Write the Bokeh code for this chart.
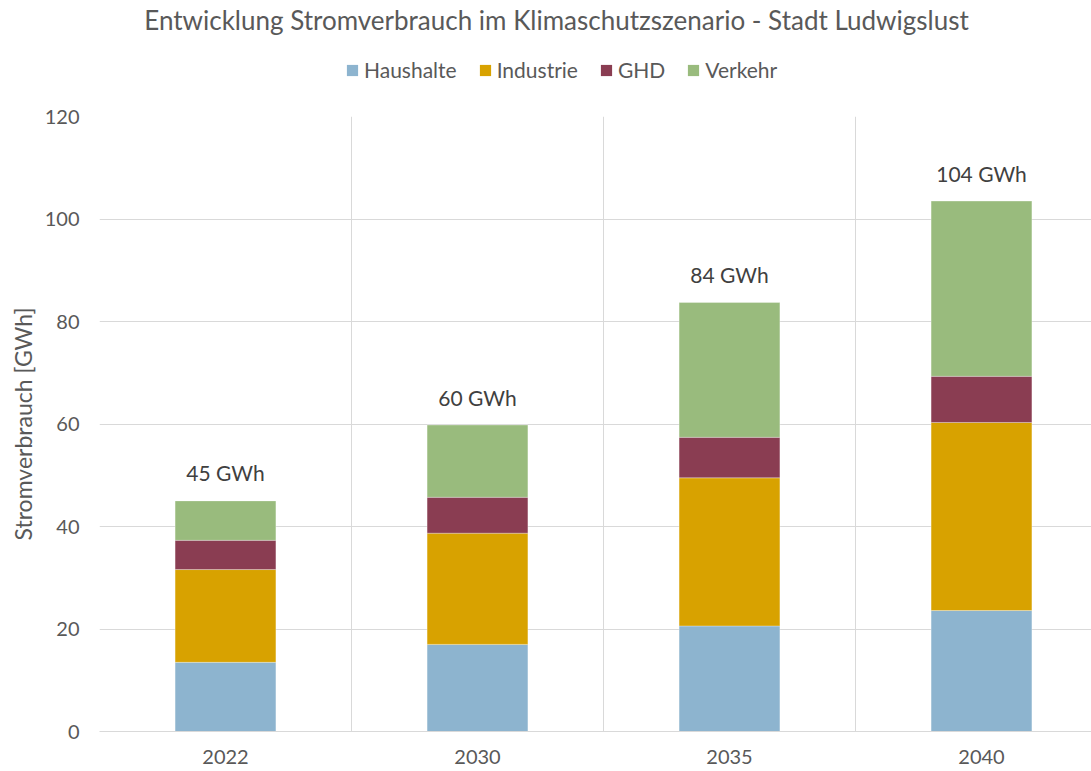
from bokeh.plotting import figure
from bokeh.layouts import column
from bokeh.models import ColumnDataSource, Range1d, FixedTicker, Legend, LegendItem, Label
from bokeh.core.properties import value
from bokeh.embed import file_html
from bokeh.resources import INLINE

# ---- data ----
years = ["2022", "2030", "2035", "2040"]
series = ["Haushalte", "Industrie", "GHD", "Verkehr"]
haushalte = [13.5, 17.0, 20.6, 23.6]
industrie = [18.1, 21.7, 28.9, 36.7]
ghd = [5.7, 7.0, 7.9, 9.0]
verkehr = [7.7, 14.1, 26.3, 34.2]
total_labels = ["45 GWh", "60 GWh", "84 GWh", "104 GWh"]
y_ticks = [0, 20, 40, 60, 80, 100, 120]

title_text = "Entwicklung Stromverbrauch im Klimaschutzszenario - Stadt Ludwigslust"
y_label = "Stromverbrauch [GWh]"

# ---- styles ----
colors = ["#8DB4CF", "#D8A200", "#8A3D52", "#99BB7D"]
FONT = "Lato"
TXT = "#595959"
GRID = "#D9D9D9"
W, H_TOP, H_MAIN = 1091, 100, 671
FRAME_LEFT = 99

xpos = [i + 0.5 for i in range(len(years))]
totals = [h + i + g + v for h, i, g, v in zip(haushalte, industrie, ghd, verkehr)]

# ================= header: title + legend =================
# (the column layout aligns this header's frame with the chart frame below,
#  so its x range is expressed in page pixels from FRAME_LEFT to W)
top = figure(width=W, height=H_TOP, output_backend="svg", toolbar_location=None,
             x_range=Range1d(FRAME_LEFT, W), y_range=Range1d(H_TOP, 0),
             x_axis_type=None, y_axis_type=None,
             min_border_left=0, min_border_right=0, min_border_top=0, min_border_bottom=0)
top.outline_line_color = None
top.background_fill_color = "white"
top.border_fill_color = "white"

top.add_layout(Label(x=556, y=19, text=title_text, text_align="center",
                     text_baseline="middle", text_font=FONT, text_font_size="26px",
                     text_color=TXT))

# zero-size swatch renderers (only used for the legend glyphs)
sw_src = ColumnDataSource(dict(x=[FRAME_LEFT], top=[0]))
swatches = [top.vbar(x="x", top="top", width=0, source=sw_src, fill_color=c, line_color=None)
            for c in colors]
legend = Legend(items=[LegendItem(label=s, renderers=[r]) for s, r in zip(series, swatches)],
                orientation="horizontal", location=(345 - FRAME_LEFT, 18),
                glyph_width=14, glyph_height=14, label_standoff=5, spacing=21,
                padding=0, margin=0, border_line_color=None,
                background_fill_alpha=0,
                label_text_font=FONT, label_text_font_size="21px",
                label_text_color=TXT)
top.add_layout(legend)

# ================= main chart =================
source = ColumnDataSource(dict(x=xpos, Haushalte=haushalte, Industrie=industrie,
                               GHD=ghd, Verkehr=verkehr))
lab_src = ColumnDataSource(dict(x=xpos, y=totals, t=total_labels))

p = figure(width=W, height=H_MAIN, output_backend="svg", toolbar_location=None,
           x_range=Range1d(0, (W - FRAME_LEFT) / 252), y_range=Range1d(0, 120),
           min_border_left=FRAME_LEFT, min_border_right=0, min_border_top=16,
           min_border_bottom=40)
p.outline_line_color = None
p.background_fill_color = "white"
p.border_fill_color = "white"

p.vbar_stack(series, x="x", width=0.4, source=source, color=colors,
             line_color="white", line_width=0.6, line_alpha=0.5)

p.text(x="x", y="y", text="t", source=lab_src, y_offset=-28,
       text_align="center", text_baseline="middle",
       text_font=value(FONT), text_font_size="21px", text_color="#404040")

p.xaxis.ticker = FixedTicker(ticks=xpos)
p.xaxis.major_label_overrides = {x: y for x, y in zip(xpos, years)}
p.xaxis.axis_line_color = GRID
p.xaxis.major_tick_line_color = None
p.xaxis.minor_tick_line_color = None
p.xaxis.major_tick_out = 0
p.xaxis.major_tick_in = 0
p.xaxis.major_label_standoff = 18
p.xaxis.major_label_text_font = FONT
p.xaxis.major_label_text_font_size = "20px"
p.xaxis.major_label_text_color = TXT

p.yaxis.ticker = FixedTicker(ticks=y_ticks)
p.yaxis.axis_line_color = None
p.yaxis.major_tick_line_color = None
p.yaxis.minor_tick_line_color = None
p.yaxis.major_tick_out = 0
p.yaxis.major_tick_in = 0
p.yaxis.major_label_standoff = 20
p.yaxis.major_label_text_font = FONT
p.yaxis.major_label_text_font_size = "20px"
p.yaxis.major_label_text_color = TXT
p.yaxis.axis_label = y_label
p.yaxis.axis_label_standoff = 5
p.yaxis.axis_label_text_font = FONT
p.yaxis.axis_label_text_font_size = "23px"
p.yaxis.axis_label_text_font_style = "normal"
p.yaxis.axis_label_text_color = TXT

p.xgrid.ticker = FixedTicker(ticks=[0, 1, 2, 3])
p.xgrid.grid_line_color = GRID
p.ygrid.grid_line_color = GRID

layout = column(top, p, spacing=0)
open("out.html", "w").write(file_html(layout, INLINE))
